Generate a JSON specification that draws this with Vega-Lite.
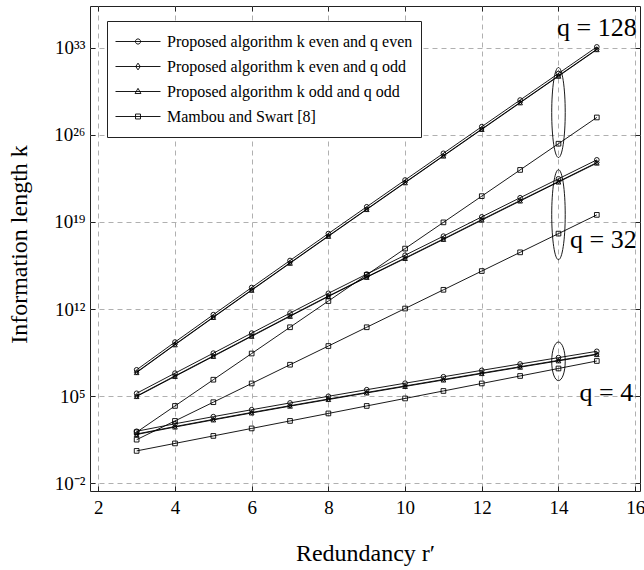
{
  "$schema": "https://vega.github.io/schema/vega-lite/v6.json",
  "width": 550,
  "height": 485,
  "autosize": {"type": "none"},
  "padding": {"left": 90, "top": 6, "right": 4, "bottom": 79},
  "config": {
    "view": {"stroke": "#222222", "strokeWidth": 1},
    "font": "Liberation Serif",
    "axis": {
      "labelFont": "Liberation Serif",
      "titleFont": "Liberation Serif",
      "labelFontSize": 19,
      "titleFontSize": 24,
      "titleFontWeight": "normal",
      "labelColor": "black",
      "titleColor": "black",
      "gridColor": "#b0b0b0",
      "gridDash": [5, 4],
      "gridWidth": 1,
      "domain": false,
      "ticks": true,
      "tickSize": -5,
      "tickColor": "#222222",
      "tickWidth": 1
    }
  },
  "resolve": {"scale": {"shape": "independent"}, "axis": {"x": "independent", "y": "independent"}},
  "datasets": {
    "curves": [
      {"r": 3, "k": 151, "q": 4, "method": "Proposed algorithm k even and q even"},
      {"r": 4, "k": 603, "q": 4, "method": "Proposed algorithm k even and q even"},
      {"r": 5, "k": 2260, "q": 4, "method": "Proposed algorithm k even and q even"},
      {"r": 6, "k": 8150, "q": 4, "method": "Proposed algorithm k even and q even"},
      {"r": 7, "k": 28500, "q": 4, "method": "Proposed algorithm k even and q even"},
      {"r": 8, "k": 97700, "q": 4, "method": "Proposed algorithm k even and q even"},
      {"r": 9, "k": 330000, "q": 4, "method": "Proposed algorithm k even and q even"},
      {"r": 10, "k": 1100000, "q": 4, "method": "Proposed algorithm k even and q even"},
      {"r": 11, "k": 3630000, "q": 4, "method": "Proposed algorithm k even and q even"},
      {"r": 12, "k": 11900000, "q": 4, "method": "Proposed algorithm k even and q even"},
      {"r": 13, "k": 38600000, "q": 4, "method": "Proposed algorithm k even and q even"},
      {"r": 14, "k": 125000000, "q": 4, "method": "Proposed algorithm k even and q even"},
      {"r": 15, "k": 401000000, "q": 4, "method": "Proposed algorithm k even and q even"},
      {"r": 3, "k": 91, "q": 4, "method": "Proposed algorithm k even and q odd"},
      {"r": 4, "k": 363, "q": 4, "method": "Proposed algorithm k even and q odd"},
      {"r": 5, "k": 1360, "q": 4, "method": "Proposed algorithm k even and q odd"},
      {"r": 6, "k": 4910, "q": 4, "method": "Proposed algorithm k even and q odd"},
      {"r": 7, "k": 17200, "q": 4, "method": "Proposed algorithm k even and q odd"},
      {"r": 8, "k": 58900, "q": 4, "method": "Proposed algorithm k even and q odd"},
      {"r": 9, "k": 199000, "q": 4, "method": "Proposed algorithm k even and q odd"},
      {"r": 10, "k": 663000, "q": 4, "method": "Proposed algorithm k even and q odd"},
      {"r": 11, "k": 2190000, "q": 4, "method": "Proposed algorithm k even and q odd"},
      {"r": 12, "k": 7170000, "q": 4, "method": "Proposed algorithm k even and q odd"},
      {"r": 13, "k": 23300000, "q": 4, "method": "Proposed algorithm k even and q odd"},
      {"r": 14, "k": 75300000, "q": 4, "method": "Proposed algorithm k even and q odd"},
      {"r": 15, "k": 242000000, "q": 4, "method": "Proposed algorithm k even and q odd"},
      {"r": 3, "k": 83, "q": 4, "method": "Proposed algorithm k odd and q odd"},
      {"r": 4, "k": 331, "q": 4, "method": "Proposed algorithm k odd and q odd"},
      {"r": 5, "k": 1240, "q": 4, "method": "Proposed algorithm k odd and q odd"},
      {"r": 6, "k": 4480, "q": 4, "method": "Proposed algorithm k odd and q odd"},
      {"r": 7, "k": 15700, "q": 4, "method": "Proposed algorithm k odd and q odd"},
      {"r": 8, "k": 53700, "q": 4, "method": "Proposed algorithm k odd and q odd"},
      {"r": 9, "k": 181000, "q": 4, "method": "Proposed algorithm k odd and q odd"},
      {"r": 10, "k": 604000, "q": 4, "method": "Proposed algorithm k odd and q odd"},
      {"r": 11, "k": 1990000, "q": 4, "method": "Proposed algorithm k odd and q odd"},
      {"r": 12, "k": 6540000, "q": 4, "method": "Proposed algorithm k odd and q odd"},
      {"r": 13, "k": 21200000, "q": 4, "method": "Proposed algorithm k odd and q odd"},
      {"r": 14, "k": 68700000, "q": 4, "method": "Proposed algorithm k odd and q odd"},
      {"r": 15, "k": 220000000, "q": 4, "method": "Proposed algorithm k odd and q odd"},
      {"r": 3, "k": 4, "q": 4, "method": "Mambou and Swart [8]"},
      {"r": 4, "k": 16, "q": 4, "method": "Mambou and Swart [8]"},
      {"r": 5, "k": 64, "q": 4, "method": "Mambou and Swart [8]"},
      {"r": 6, "k": 256, "q": 4, "method": "Mambou and Swart [8]"},
      {"r": 7, "k": 1024, "q": 4, "method": "Mambou and Swart [8]"},
      {"r": 8, "k": 4096, "q": 4, "method": "Mambou and Swart [8]"},
      {"r": 9, "k": 16384, "q": 4, "method": "Mambou and Swart [8]"},
      {"r": 10, "k": 65536, "q": 4, "method": "Mambou and Swart [8]"},
      {"r": 11, "k": 262144, "q": 4, "method": "Mambou and Swart [8]"},
      {"r": 12, "k": 1048576, "q": 4, "method": "Mambou and Swart [8]"},
      {"r": 13, "k": 4194304, "q": 4, "method": "Mambou and Swart [8]"},
      {"r": 14, "k": 16777216, "q": 4, "method": "Mambou and Swart [8]"},
      {"r": 15, "k": 67108864, "q": 4, "method": "Mambou and Swart [8]"},
      {"r": 3, "k": 1.70e5, "q": 32, "method": "Proposed algorithm k even and q even"},
      {"r": 4, "k": 7.04e6, "q": 32, "method": "Proposed algorithm k even and q even"},
      {"r": 5, "k": 2.86e8, "q": 32, "method": "Proposed algorithm k even and q even"},
      {"r": 6, "k": 1.17e10, "q": 32, "method": "Proposed algorithm k even and q even"},
      {"r": 7, "k": 4.73e11, "q": 32, "method": "Proposed algorithm k even and q even"},
      {"r": 8, "k": 1.84e13, "q": 32, "method": "Proposed algorithm k even and q even"},
      {"r": 9, "k": 6.41e14, "q": 32, "method": "Proposed algorithm k even and q even"},
      {"r": 10, "k": 2.11e16, "q": 32, "method": "Proposed algorithm k even and q even"},
      {"r": 11, "k": 7.19e17, "q": 32, "method": "Proposed algorithm k even and q even"},
      {"r": 12, "k": 2.55e19, "q": 32, "method": "Proposed algorithm k even and q even"},
      {"r": 13, "k": 8.75e20, "q": 32, "method": "Proposed algorithm k even and q even"},
      {"r": 14, "k": 2.92e22, "q": 32, "method": "Proposed algorithm k even and q even"},
      {"r": 15, "k": 9.71e23, "q": 32, "method": "Proposed algorithm k even and q even"},
      {"r": 3, "k": 1.02e5, "q": 32, "method": "Proposed algorithm k even and q odd"},
      {"r": 4, "k": 4.24e6, "q": 32, "method": "Proposed algorithm k even and q odd"},
      {"r": 5, "k": 1.72e8, "q": 32, "method": "Proposed algorithm k even and q odd"},
      {"r": 6, "k": 7.05e9, "q": 32, "method": "Proposed algorithm k even and q odd"},
      {"r": 7, "k": 2.85e11, "q": 32, "method": "Proposed algorithm k even and q odd"},
      {"r": 8, "k": 1.11e13, "q": 32, "method": "Proposed algorithm k even and q odd"},
      {"r": 9, "k": 3.86e14, "q": 32, "method": "Proposed algorithm k even and q odd"},
      {"r": 10, "k": 1.27e16, "q": 32, "method": "Proposed algorithm k even and q odd"},
      {"r": 11, "k": 4.33e17, "q": 32, "method": "Proposed algorithm k even and q odd"},
      {"r": 12, "k": 1.54e19, "q": 32, "method": "Proposed algorithm k even and q odd"},
      {"r": 13, "k": 5.27e20, "q": 32, "method": "Proposed algorithm k even and q odd"},
      {"r": 14, "k": 1.76e22, "q": 32, "method": "Proposed algorithm k even and q odd"},
      {"r": 15, "k": 5.85e23, "q": 32, "method": "Proposed algorithm k even and q odd"},
      {"r": 3, "k": 9.34e4, "q": 32, "method": "Proposed algorithm k odd and q odd"},
      {"r": 4, "k": 3.87e6, "q": 32, "method": "Proposed algorithm k odd and q odd"},
      {"r": 5, "k": 1.57e8, "q": 32, "method": "Proposed algorithm k odd and q odd"},
      {"r": 6, "k": 6.43e9, "q": 32, "method": "Proposed algorithm k odd and q odd"},
      {"r": 7, "k": 2.60e11, "q": 32, "method": "Proposed algorithm k odd and q odd"},
      {"r": 8, "k": 1.01e13, "q": 32, "method": "Proposed algorithm k odd and q odd"},
      {"r": 9, "k": 3.52e14, "q": 32, "method": "Proposed algorithm k odd and q odd"},
      {"r": 10, "k": 1.16e16, "q": 32, "method": "Proposed algorithm k odd and q odd"},
      {"r": 11, "k": 3.95e17, "q": 32, "method": "Proposed algorithm k odd and q odd"},
      {"r": 12, "k": 1.40e19, "q": 32, "method": "Proposed algorithm k odd and q odd"},
      {"r": 13, "k": 4.81e20, "q": 32, "method": "Proposed algorithm k odd and q odd"},
      {"r": 14, "k": 1.60e22, "q": 32, "method": "Proposed algorithm k odd and q odd"},
      {"r": 15, "k": 5.34e23, "q": 32, "method": "Proposed algorithm k odd and q odd"},
      {"r": 3, "k": 32, "q": 32, "method": "Mambou and Swart [8]"},
      {"r": 4, "k": 1024, "q": 32, "method": "Mambou and Swart [8]"},
      {"r": 5, "k": 32768, "q": 32, "method": "Mambou and Swart [8]"},
      {"r": 6, "k": 1048576, "q": 32, "method": "Mambou and Swart [8]"},
      {"r": 7, "k": 3.36e7, "q": 32, "method": "Mambou and Swart [8]"},
      {"r": 8, "k": 1.07e9, "q": 32, "method": "Mambou and Swart [8]"},
      {"r": 9, "k": 3.44e10, "q": 32, "method": "Mambou and Swart [8]"},
      {"r": 10, "k": 1.10e12, "q": 32, "method": "Mambou and Swart [8]"},
      {"r": 11, "k": 3.52e13, "q": 32, "method": "Mambou and Swart [8]"},
      {"r": 12, "k": 1.13e15, "q": 32, "method": "Mambou and Swart [8]"},
      {"r": 13, "k": 3.60e16, "q": 32, "method": "Mambou and Swart [8]"},
      {"r": 14, "k": 1.15e18, "q": 32, "method": "Mambou and Swart [8]"},
      {"r": 15, "k": 3.69e19, "q": 32, "method": "Mambou and Swart [8]"},
      {"r": 3, "k": 1.31e7, "q": 128, "method": "Proposed algorithm k even and q even"},
      {"r": 4, "k": 2.23e9, "q": 128, "method": "Proposed algorithm k even and q even"},
      {"r": 5, "k": 3.53e11, "q": 128, "method": "Proposed algorithm k even and q even"},
      {"r": 6, "k": 5.38e13, "q": 128, "method": "Proposed algorithm k even and q even"},
      {"r": 7, "k": 7.97e15, "q": 128, "method": "Proposed algorithm k even and q even"},
      {"r": 8, "k": 1.16e18, "q": 128, "method": "Proposed algorithm k even and q even"},
      {"r": 9, "k": 1.65e20, "q": 128, "method": "Proposed algorithm k even and q even"},
      {"r": 10, "k": 2.33e22, "q": 128, "method": "Proposed algorithm k even and q even"},
      {"r": 11, "k": 3.26e24, "q": 128, "method": "Proposed algorithm k even and q even"},
      {"r": 12, "k": 4.52e26, "q": 128, "method": "Proposed algorithm k even and q even"},
      {"r": 13, "k": 6.21e28, "q": 128, "method": "Proposed algorithm k even and q even"},
      {"r": 14, "k": 8.50e30, "q": 128, "method": "Proposed algorithm k even and q even"},
      {"r": 15, "k": 1.16e33, "q": 128, "method": "Proposed algorithm k even and q even"},
      {"r": 3, "k": 8.52e6, "q": 128, "method": "Proposed algorithm k even and q odd"},
      {"r": 4, "k": 1.45e9, "q": 128, "method": "Proposed algorithm k even and q odd"},
      {"r": 5, "k": 2.29e11, "q": 128, "method": "Proposed algorithm k even and q odd"},
      {"r": 6, "k": 3.50e13, "q": 128, "method": "Proposed algorithm k even and q odd"},
      {"r": 7, "k": 5.18e15, "q": 128, "method": "Proposed algorithm k even and q odd"},
      {"r": 8, "k": 7.54e17, "q": 128, "method": "Proposed algorithm k even and q odd"},
      {"r": 9, "k": 1.07e20, "q": 128, "method": "Proposed algorithm k even and q odd"},
      {"r": 10, "k": 1.51e22, "q": 128, "method": "Proposed algorithm k even and q odd"},
      {"r": 11, "k": 2.12e24, "q": 128, "method": "Proposed algorithm k even and q odd"},
      {"r": 12, "k": 2.94e26, "q": 128, "method": "Proposed algorithm k even and q odd"},
      {"r": 13, "k": 4.04e28, "q": 128, "method": "Proposed algorithm k even and q odd"},
      {"r": 14, "k": 5.53e30, "q": 128, "method": "Proposed algorithm k even and q odd"},
      {"r": 15, "k": 7.54e32, "q": 128, "method": "Proposed algorithm k even and q odd"},
      {"r": 3, "k": 7.86e6, "q": 128, "method": "Proposed algorithm k odd and q odd"},
      {"r": 4, "k": 1.34e9, "q": 128, "method": "Proposed algorithm k odd and q odd"},
      {"r": 5, "k": 2.12e11, "q": 128, "method": "Proposed algorithm k odd and q odd"},
      {"r": 6, "k": 3.23e13, "q": 128, "method": "Proposed algorithm k odd and q odd"},
      {"r": 7, "k": 4.78e15, "q": 128, "method": "Proposed algorithm k odd and q odd"},
      {"r": 8, "k": 6.96e17, "q": 128, "method": "Proposed algorithm k odd and q odd"},
      {"r": 9, "k": 9.90e19, "q": 128, "method": "Proposed algorithm k odd and q odd"},
      {"r": 10, "k": 1.40e22, "q": 128, "method": "Proposed algorithm k odd and q odd"},
      {"r": 11, "k": 1.96e24, "q": 128, "method": "Proposed algorithm k odd and q odd"},
      {"r": 12, "k": 2.71e26, "q": 128, "method": "Proposed algorithm k odd and q odd"},
      {"r": 13, "k": 3.73e28, "q": 128, "method": "Proposed algorithm k odd and q odd"},
      {"r": 14, "k": 5.10e30, "q": 128, "method": "Proposed algorithm k odd and q odd"},
      {"r": 15, "k": 6.96e32, "q": 128, "method": "Proposed algorithm k odd and q odd"},
      {"r": 3, "k": 128, "q": 128, "method": "Mambou and Swart [8]"},
      {"r": 4, "k": 16384, "q": 128, "method": "Mambou and Swart [8]"},
      {"r": 5, "k": 2.10e6, "q": 128, "method": "Mambou and Swart [8]"},
      {"r": 6, "k": 2.68e8, "q": 128, "method": "Mambou and Swart [8]"},
      {"r": 7, "k": 3.44e10, "q": 128, "method": "Mambou and Swart [8]"},
      {"r": 8, "k": 4.40e12, "q": 128, "method": "Mambou and Swart [8]"},
      {"r": 9, "k": 5.63e14, "q": 128, "method": "Mambou and Swart [8]"},
      {"r": 10, "k": 7.21e16, "q": 128, "method": "Mambou and Swart [8]"},
      {"r": 11, "k": 9.22e18, "q": 128, "method": "Mambou and Swart [8]"},
      {"r": 12, "k": 1.18e21, "q": 128, "method": "Mambou and Swart [8]"},
      {"r": 13, "k": 1.51e23, "q": 128, "method": "Mambou and Swart [8]"},
      {"r": 14, "k": 1.93e25, "q": 128, "method": "Mambou and Swart [8]"},
      {"r": 15, "k": 2.48e27, "q": 128, "method": "Mambou and Swart [8]"}
    ],
    "labels": [
      {"r": 15.0, "k": 3.5e34, "label": "q = 128"},
      {"r": 15.17, "k": 3.4e17, "label": "q = 32"},
      {"r": 15.25, "k": 1.7e5, "label": "q = 4"}
    ]
  },
  "layer": [
    {
      "data": {"name": "curves"},
      "mark": {"type": "line", "color": "black", "strokeWidth": 0.9},
      "encoding": {
        "x": {
          "field": "r", "type": "quantitative",
          "scale": {"domain": [1.784, 16.126], "nice": false, "zero": false},
          "axis": {
            "values": [2, 4, 6, 8, 10, 12, 14, 16],
            "title": "Redundancy r′",
            "grid": true,
            "labelFlush": false,
            "labelPadding": 21,
            "labelBaseline": "middle",
            "titleBaseline": "middle",
            "titleY": 62
          }
        },
        "y": {
          "field": "k", "type": "quantitative",
          "scale": {"type": "log", "domain": [0.0024, 2.24e36], "nice": false},
          "axis": {
            "values": [0.01, 1e5, 1e12, 1e19, 1e26, 1e33],
            "labelExpr": "datum.value < 0.1 ? '10⁻²' : datum.value < 1e6 ? '10⁵' : datum.value < 1e13 ? '10¹²' : datum.value < 1e20 ? '10¹⁹' : datum.value < 1e27 ? '10²⁶' : '10³³'",
            "title": "Information length k",
            "grid": true,
            "labelPadding": 10,
            "titleBaseline": "middle",
            "titleX": -71,
            "titleY": 238
          }
        },
        "detail": [{"field": "method"}, {"field": "q"}]
      }
    },
    {
      "data": {"name": "curves"},
      "mark": {"type": "point", "filled": false, "color": "black", "strokeWidth": 0.9, "size": 22, "opacity": 1},
      "encoding": {
        "x": {"field": "r", "type": "quantitative", "axis": null},
        "y": {"field": "k", "type": "quantitative", "axis": null},
        "shape": {
          "field": "method", "type": "nominal",
          "scale": {
            "domain": ["Proposed algorithm k even and q even", "Proposed algorithm k even and q odd", "Proposed algorithm k odd and q odd", "Mambou and Swart [8]"],
            "range": ["circle", "diamond", "triangle-up", "square"]
          },
          "legend": null
        }
      }
    },
    {
      "data": {"name": "curves"},
      "transform": [{"filter": "false"}],
      "mark": {"type": "point", "filled": false, "color": "black", "strokeWidth": 0.9, "opacity": 1},
      "encoding": {
        "x": {"field": "r", "type": "quantitative", "axis": null},
        "y": {"field": "k", "type": "quantitative", "axis": null},
        "shape": {
          "field": "method", "type": "nominal",
          "scale": {
            "domain": ["Proposed algorithm k even and q even", "Proposed algorithm k even and q odd", "Proposed algorithm k odd and q odd", "Mambou and Swart [8]"],
            "range": [
              "M-1,0L1,0M-0.115,0A0.115,0.115 0 1,1 0.115,0A0.115,0.115 0 1,1 -0.115,0Z",
              "M-1,0L1,0M0,-0.15L0.1,0L0,0.15L-0.1,0Z",
              "M-1,0L1,0M0,-0.14L0.13,0.09L-0.13,0.09Z",
              "M-1,0L1,0M-0.11,-0.11L0.11,-0.11L0.11,0.11L-0.11,0.11Z"
            ]
          },
          "legend": {
            "title": null,
            "orient": "none",
            "legendX": 17,
            "legendY": 15,
            "padding": 8,
            "strokeColor": "#222222",
            "fillColor": "white",
            "labelFont": "Liberation Serif",
            "labelFontSize": 16,
            "labelColor": "black",
            "labelLimit": 0,
            "labelOffset": 6,
            "symbolSize": 2025,
            "symbolStrokeWidth": 0.9,
            "symbolStrokeColor": "black",
            "symbolOpacity": 1,
            "clipHeight": 25,
            "rowPadding": 0
          }
        }
      }
    },
    {
      "data": {"values": [{"r": 14, "k": 6.2e27}, {"r": 14, "k": 3.8e19}]},
      "mark": {"type": "point", "filled": false, "color": "black", "strokeWidth": 0.9, "opacity": 1, "size": 8100, "shape": "M0,-1A0.15,1 0 1,1 0,1A0.15,1 0 1,1 0,-1Z"},
      "encoding": {
        "x": {
          "field": "r", "type": "quantitative",
          "axis": {"orient": "top", "values": [2, 4, 6, 8, 10, 12, 14, 16], "labels": false, "grid": false, "title": null}
        },
        "y": {
          "field": "k", "type": "quantitative",
          "axis": {"orient": "right", "values": [0.01, 1e5, 1e12, 1e19, 1e26, 1e33], "labels": false, "grid": false, "title": null}
        }
      }
    },
    {
      "data": {"values": [{"r": 14, "k": 6.3e7}]},
      "mark": {"type": "point", "filled": false, "color": "black", "strokeWidth": 0.9, "opacity": 1, "size": 1490, "shape": "M0,-1A0.35,1 0 1,1 0,1A0.35,1 0 1,1 0,-1Z"},
      "encoding": {
        "x": {"field": "r", "type": "quantitative", "axis": null},
        "y": {"field": "k", "type": "quantitative", "axis": null}
      }
    },
    {
      "data": {"name": "labels"},
      "mark": {"type": "text", "font": "Liberation Serif", "fontSize": 26, "align": "center", "baseline": "middle", "color": "black"},
      "encoding": {
        "x": {"field": "r", "type": "quantitative", "axis": null},
        "y": {"field": "k", "type": "quantitative", "axis": null},
        "text": {"field": "label"}
      }
    }
  ]
}
